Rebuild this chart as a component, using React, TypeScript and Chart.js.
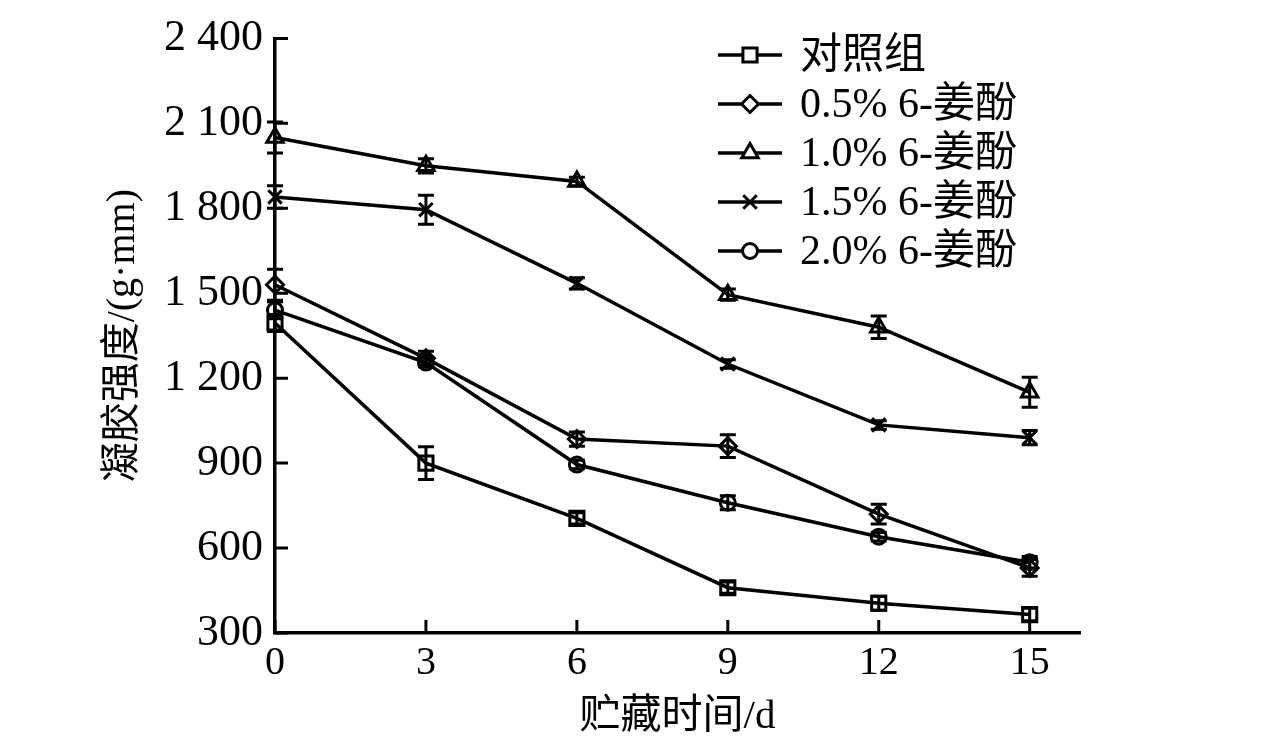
import { useRef, useEffect } from 'react';
import { Chart, registerables } from 'chart.js';
import type { Plugin } from 'chart.js';
import { drawPoint } from 'chart.js/helpers';

Chart.register(...registerables);

const FONT = '"Liberation Serif", "Noto Sans CJK SC", serif';

// storage days
const days = [0, 3, 6, 9, 12, 15];
const seriesLabels = ['对照组', '0.5% 6-姜酚', '1.0% 6-姜酚', '1.5% 6-姜酚', '2.0% 6-姜酚'];

// gel strength, g·mm
const control = [1395, 900, 705, 460, 405, 365];
const gingerol05 = [1530, 1270, 985, 960, 720, 530];
const gingerol10 = [2050, 1950, 1895, 1495, 1380, 1150];
const gingerol15 = [1840, 1795, 1535, 1250, 1035, 990];
const gingerol20 = [1440, 1255, 895, 760, 640, 550];

// error bars (±)
const controlErr = [30, 58, 20, 20, 25, 22];
const gingerol05Err = [55, 25, 25, 40, 35, 30];
const gingerol10Err = [55, 25, 15, 20, 40, 53];
const gingerol15Err = [40, 51, 20, 15, 15, 25];
const gingerol20Err = [30, 15, 15, 25, 15, 20];

const xTicks = [0, 3, 6, 9, 12, 15];
const yTicks = [300, 600, 900, 1200, 1500, 1800, 2100, 2400];
const yTickLabels = ['300', '600', '900', '1 200', '1 500', '1 800', '2 100', '2 400'];

const seriesValues = [control, gingerol05, gingerol10, gingerol15, gingerol20];
const seriesErrors = [controlErr, gingerol05Err, gingerol10Err, gingerol15Err, gingerol20Err];
const pointStyles = ['rect', 'rectRot', 'triangle', 'crossRot', 'circle'] as const;
const pointRadii = [10, 8.5, 9.5, 9.5, 7.5];

const errorBars: Plugin<'line'> = {
  id: 'errorBars',
  afterDatasetsDraw(chart) {
    const { ctx } = chart;
    const yScale = chart.scales.y;
    ctx.save();
    ctx.strokeStyle = '#000';
    ctx.lineWidth = 3;
    seriesValues.forEach((vals, i) => {
      const meta = chart.getDatasetMeta(i);
      meta.data.forEach((pt, j) => {
        const top = yScale.getPixelForValue(vals[j] + seriesErrors[i][j]);
        const bot = yScale.getPixelForValue(vals[j] - seriesErrors[i][j]);
        ctx.beginPath();
        ctx.moveTo(pt.x, top);
        ctx.lineTo(pt.x, bot);
        ctx.moveTo(pt.x - 8, top);
        ctx.lineTo(pt.x + 8, top);
        ctx.moveTo(pt.x - 8, bot);
        ctx.lineTo(pt.x + 8, bot);
        ctx.stroke();
      });
    });
    ctx.restore();
  },
};

// tick marks pointing into the plot
const innerTicks: Plugin<'line'> = {
  id: 'innerTicks',
  afterDraw(chart) {
    const { ctx, chartArea } = chart;
    const xs = chart.scales.x;
    const ys = chart.scales.y;
    ctx.save();
    ctx.strokeStyle = '#000';
    ctx.lineWidth = 3;
    ctx.beginPath();
    xTicks.forEach((v) => {
      const px = xs.getPixelForValue(v);
      ctx.moveTo(px, chartArea.bottom);
      ctx.lineTo(px, chartArea.bottom - 13);
    });
    yTicks.forEach((v) => {
      const py = ys.getPixelForValue(v);
      ctx.moveTo(chartArea.left, py);
      ctx.lineTo(chartArea.left + 13, py);
    });
    ctx.stroke();
    ctx.restore();
  },
};

const lineLegend: Plugin<'line'> = {
  id: 'lineLegend',
  afterDraw(chart) {
    const { ctx } = chart;
    ctx.save();
    ctx.font = `42px ${FONT}`;
    ctx.textBaseline = 'middle';
    ctx.textAlign = 'left';
    seriesLabels.forEach((label, i) => {
      const y = 55 + i * 49;
      ctx.strokeStyle = '#000';
      ctx.lineWidth = 3.5;
      ctx.beginPath();
      ctx.moveTo(718, y);
      ctx.lineTo(782, y);
      ctx.stroke();
      ctx.fillStyle = '#fff';
      ctx.lineWidth = 3;
      drawPoint(ctx, { pointStyle: pointStyles[i], radius: pointRadii[i], rotation: 0, borderWidth: 3 }, 750, y);
      ctx.fillStyle = '#000';
      ctx.fillText(label, 800, y + 2);
    });
    ctx.restore();
  },
};

export default function App() {
  const canvasRef = useRef<HTMLCanvasElement | null>(null);

  useEffect(() => {
    document.body.style.margin = '0';
    const canvas = canvasRef.current;
    if (!canvas) return;

    const chart = new Chart(canvas, {
      type: 'line',
      data: {
        datasets: seriesValues.map((vals, i) => ({
          label: seriesLabels[i],
          data: days.map((d, j) => ({ x: d, y: vals[j] })),
          borderColor: '#000',
          borderWidth: 3.5,
          pointStyle: pointStyles[i],
          pointRadius: pointRadii[i],
          pointBorderColor: '#000',
          pointBackgroundColor: 'rgba(0,0,0,0)',
          pointBorderWidth: 3,
          tension: 0,
          clip: false as any,
        })),
      },
      options: {
        animation: false,
        responsive: true,
        maintainAspectRatio: false,
        layout: { padding: { top: 38, right: 196, left: 0, bottom: 0 } },
        plugins: {
          legend: { display: false },
          tooltip: { enabled: false },
        },
        scales: {
          x: {
            type: 'linear',
            min: 0,
            max: 16,
            afterBuildTicks: (s) => {
              s.ticks = xTicks.map((value) => ({ value }));
            },
            afterFit: (s) => {
              s.height = 117;
            },
            grid: { display: true, drawOnChartArea: false, drawTicks: false },
            border: { color: '#000', width: 3.5 },
            ticks: {
              color: '#000',
              font: { size: 40, family: FONT },
              padding: 6,
              maxRotation: 0,
              autoSkip: false,
            },
            title: {
              display: true,
              text: '贮藏时间/d',
              color: '#000',
              font: { size: 41, family: FONT },
              padding: { top: 0, bottom: 8 },
            },
          },
          y: {
            type: 'linear',
            min: 300,
            max: 2400,
            afterBuildTicks: (s) => {
              s.ticks = yTicks.map((value) => ({ value }));
            },
            afterFit: (s) => {
              s.width = 275;
            },
            grid: { display: true, drawOnChartArea: false, drawTicks: false },
            border: { color: '#000', width: 3.5 },
            ticks: {
              color: '#000',
              font: { size: 44, family: FONT },
              padding: 12,
              autoSkip: false,
              callback: (_v, idx) => yTickLabels[idx],
            },
            title: {
              display: true,
              text: '凝胶强度/(g·mm)',
              color: '#000',
              font: { size: 40, family: FONT },
              padding: { top: 99, bottom: 0 },
            },
          },
        },
      },
      plugins: [errorBars, innerTicks, lineLegend],
    });

    return () => {
      chart.destroy();
    };
  }, []);

  return (
    <div style={{ width: 1276, height: 750, background: '#fff' }}>
      <canvas ref={canvasRef} />
    </div>
  );
}
